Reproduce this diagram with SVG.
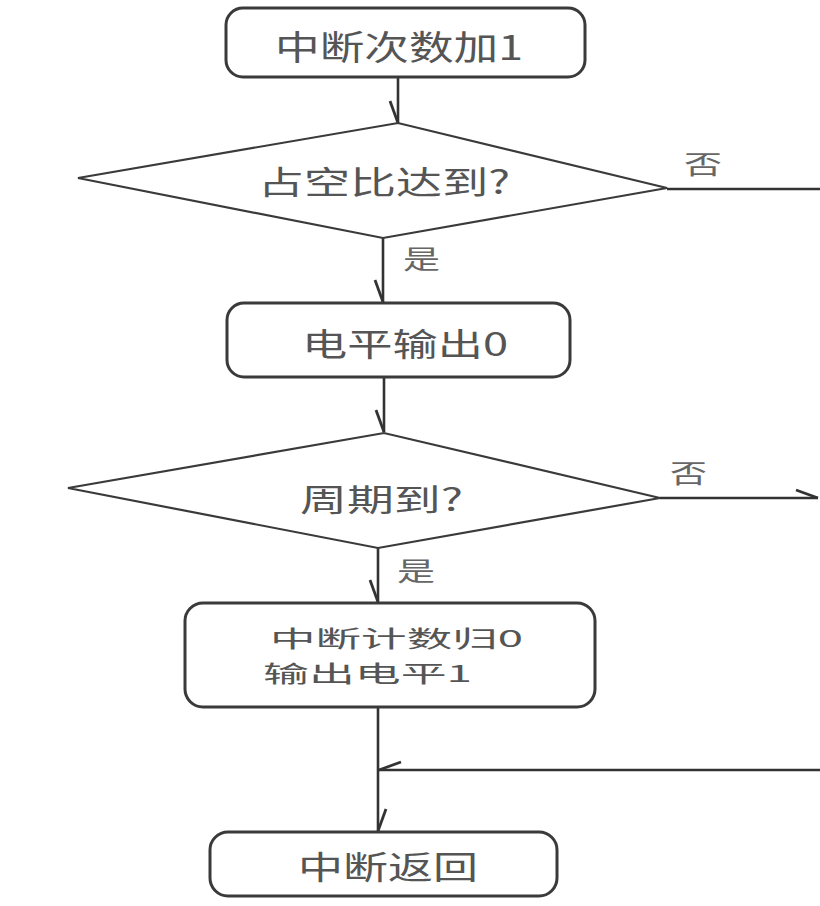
<svg xmlns="http://www.w3.org/2000/svg" width="820" height="906" viewBox="0 0 820 906">
<style>
.box{fill:#fff;stroke:#3a3a3a;stroke-width:3}
.dia{fill:#fff;stroke:#3a3a3a;stroke-width:2.2}
.ln{fill:none;stroke:#333;stroke-width:2.6}
.t{font-family:"Noto Sans CJK SC","Noto Sans",sans-serif;fill:#555;dominant-baseline:central}
.lb{font-family:"Noto Sans CJK SC","Noto Sans",sans-serif;fill:#666;dominant-baseline:central;font-size:26px}
</style>
<defs>
<marker id="barbA" markerUnits="userSpaceOnUse" markerWidth="30" markerHeight="30" refX="0" refY="0" orient="auto" overflow="visible">
<path d="M-22,8 L0,0" fill="none" stroke="#333" stroke-width="2.8"/>
</marker>
<marker id="barbB" markerUnits="userSpaceOnUse" markerWidth="30" markerHeight="30" refX="0" refY="0" orient="auto" overflow="visible">
<path d="M-22,-8 L0,0" fill="none" stroke="#333" stroke-width="2.8"/>
</marker>
</defs>
<rect width="820" height="906" fill="#fff"/>
<g id="connectors">
<line class="ln" x1="398" y1="77" x2="398" y2="123" marker-end="url(#barbA)"/>
<line class="ln" x1="383" y1="238" x2="383" y2="302" marker-end="url(#barbA)"/>
<line class="ln" x1="667" y1="189" x2="820" y2="189"/>
<line class="ln" x1="384" y1="377" x2="384" y2="432" marker-end="url(#barbA)"/>
<line class="ln" x1="378" y1="548" x2="378" y2="602" marker-end="url(#barbA)"/>
<line class="ln" x1="660" y1="498" x2="818" y2="498" marker-end="url(#barbB)"/>
<line class="ln" x1="378" y1="707" x2="378" y2="831" marker-end="url(#barbB)"/>
<line class="ln" x1="820" y1="770" x2="379" y2="770" marker-end="url(#barbA)"/>
<text class="lb" x="684" y="162" textLength="38" lengthAdjust="spacingAndGlyphs">否</text>
<text class="lb" x="403" y="257" textLength="37" lengthAdjust="spacingAndGlyphs">是</text>
<text class="lb" x="670" y="471" textLength="37" lengthAdjust="spacingAndGlyphs">否</text>
<text class="lb" x="397" y="569" textLength="38" lengthAdjust="spacingAndGlyphs">是</text>
</g>
<g id="n1">
<rect class="box" x="226" y="8" width="359" height="69" rx="17"/>
<text class="t" x="275" y="45" font-size="34" textLength="248" lengthAdjust="spacingAndGlyphs">中断次数加1</text>
</g>
<g id="d1">
<polygon class="dia" points="78,178 398,123 667,188 383,238"/>
<text class="t" x="258" y="180" font-size="32" textLength="252" lengthAdjust="spacingAndGlyphs">占空比达到?</text>
</g>
<g id="n2">
<rect class="box" x="227" y="303" width="343" height="74" rx="17"/>
<text class="t" x="302" y="342" font-size="32" textLength="206" lengthAdjust="spacingAndGlyphs">电平输出0</text>
</g>
<g id="d2">
<polygon class="dia" points="68,488 384,433 660,498 378,548"/>
<text class="t" x="300" y="497" font-size="31" textLength="163" lengthAdjust="spacingAndGlyphs">周期到?</text>
</g>
<g id="n3">
<rect class="box" x="185" y="603" width="410" height="104" rx="18"/>
<text class="t" x="270" y="637" font-size="23" textLength="253" lengthAdjust="spacingAndGlyphs">中断计数归0</text>
<text class="t" x="263" y="672" font-size="23" textLength="209" lengthAdjust="spacingAndGlyphs">输出电平1</text>
</g>
<g id="n4">
<rect class="box" x="210" y="832" width="347" height="64" rx="18"/>
<text class="t" x="298" y="865" font-size="32" textLength="180" lengthAdjust="spacingAndGlyphs">中断返回</text>
</g>
</svg>
